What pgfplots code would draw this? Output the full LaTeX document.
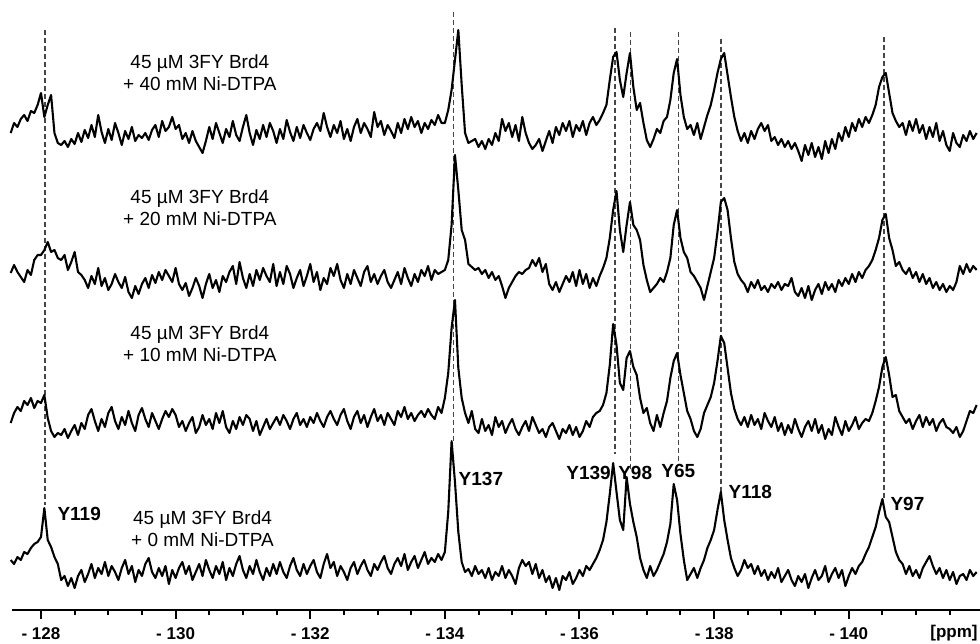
\documentclass[border=0pt]{standalone}
\usepackage{fontspec}
\setmainfont{Liberation Sans}
\usepackage{pgfplots}
\pgfplotsset{compat=1.18}
\usepackage{pgfplotstable}

% 19F NMR, 3FY Brd4 titrated with Ni-DTPA; intensities relative to each baseline
\pgfplotstableread{
d s1 s2 s3 s4
127.55 2 7 0 12
127.60 12 15 10 8
127.65 8 8 16 15
127.70 16 3 12 12
127.75 20 -2 22 20
127.80 14 10 18 18
127.85 24 5 25 24
127.90 22 20 15 28
127.95 30 25 22 30
128.00 42 25 20 35
128.05 18 30 28 64
128.10 30 38 5 32
128.15 40 28 -8 25
128.20 2 30 -14 15
128.25 -8 22 -10 8
128.30 -10 20 -12 -8
128.35 -6 25 -6 -4
128.40 -12 10 -15 -14
128.45 -4 18 -8 -6
128.50 -9 28 -2 -16
128.55 2 8 -12 -4
128.60 -7 5 0 2
128.65 5 0 -6 -10
128.70 -3 -8 8 -2
128.75 10 4 14 8
128.80 -2 -4 2 -6
128.85 20 12 -8 4
128.90 3 -6 4 -2
128.95 -8 2 -4 10
129.00 6 -10 10 -4
129.05 -5 -4 16 6
129.10 12 6 2 0
129.15 2 -2 -6 -8
129.20 -10 -8 6 4
129.25 4 3 -2 12
129.30 -4 -12 12 -2
129.35 8 -18 0 6
129.40 -6 -6 -8 -10
129.45 0 -14 8 2
129.50 -3 -4 15 -4
129.55 2 2 4 8
129.60 -5 -8 -4 14
129.65 5 5 10 0
129.70 10 -3 2 -6
129.75 -2 8 -6 4
129.80 14 0 4 -4
129.85 4 10 12 6
129.90 8 4 6 -12
129.95 18 -2 14 2
130.00 6 12 8 -6
130.05 10 -4 -4 4
130.10 -4 -10 2 10
130.15 2 -3 -8 -2
130.20 -8 -16 0 6
130.25 4 -8 6 -8
130.30 -6 2 -10 0
130.35 -12 -6 -4 8
130.40 -18 -18 8 -4
130.45 -6 -4 -2 12
130.50 8 6 4 2
130.55 -4 -8 -6 -6
130.60 12 0 10 6
130.65 2 -12 0 -2
130.70 -8 4 12 10
130.75 6 -2 -4 -8
130.80 -2 8 -10 4
130.85 14 14 2 -4
130.90 0 -4 -6 8
130.95 -6 18 6 16
131.00 8 2 -2 2
131.05 20 -8 8 -6
131.10 2 6 4 6
131.15 -10 -6 -8 -2
131.20 5 10 2 12
131.25 -4 0 -12 0
131.30 10 12 -4 -8
131.35 -2 4 4 4
131.40 12 -2 -6 -4
131.45 4 16 0 8
131.50 -8 -6 6 -2
131.55 6 8 -2 10
131.60 -4 -4 8 0
131.65 15 14 2 -6
131.70 3 6 -6 6
131.75 -6 -8 4 14
131.80 8 2 10 2
131.85 -3 10 -2 -4
131.90 10 -6 4 8
131.95 2 4 -4 -2
132.00 -5 16 6 6
132.05 6 -2 0 12
132.10 12 8 10 0
132.15 4 -10 2 -6
132.20 22 2 -4 8
132.25 8 -4 6 18
132.30 -2 12 12 4
132.35 10 4 4 10
132.40 2 16 -2 -4
132.45 14 0 8 6
132.50 -4 -8 14 0
132.55 6 6 2 -8
132.60 -6 -4 -6 4
132.65 8 10 6 10
132.70 16 2 12 -2
132.75 2 -6 0 6
132.80 12 8 8 12
132.85 6 14 -4 2
132.90 -2 -2 6 -4
132.95 23 6 14 8
133.00 8 -4 2 2
133.05 14 4 8 10
133.10 0 10 -2 16
133.15 10 -2 10 4
133.20 4 -8 4 -2
133.25 -3 0 -2 8
133.30 12 8 12 14
133.35 2 -4 6 6
133.40 16 12 16 18
133.45 6 2 4 2
133.50 18 -6 10 10
133.55 8 6 2 16
133.60 14 -2 8 4
133.65 2 10 12 12
133.70 12 4 6 20
133.75 6 14 14 8
133.80 15 0 8 14
133.85 10 10 4 10
133.90 20 6 16 18
133.95 12 8 10 12
134.00 12 10 25 20
134.05 25 20 50 60
134.10 45 55 95 131
134.15 75 125 123 90
134.20 105 90 55 40
134.25 50 50 25 10
134.30 2 40 10 0
134.35 -8 16 0 3
134.40 -6 13 12 -4
134.45 -4 10 -6 6
134.50 -12 12 -10 -2
134.55 -6 6 4 2
134.60 -14 10 -8 -6
134.65 -4 2 -2 4
134.70 -10 8 -12 -8
134.75 2 0 6 0
134.80 -6 4 -4 -4
134.85 16 -6 2 6
134.90 4 -18 -10 -6
134.95 12 -8 -2 2
135.00 -2 -2 4 -4
135.05 10 4 -6 -12
135.10 -6 8 -12 4
135.15 18 6 -4 12
135.20 2 10 2 6
135.25 -8 12 -8 10
135.30 -14 20 6 -2
135.35 -10 14 -2 8
135.40 -4 22 -10 -6
135.45 -16 8 -6 2
135.50 -6 16 -14 -10
135.55 4 -4 -4 -4
135.60 -8 -10 0 -16
135.65 8 -2 -8 -6
135.70 0 -12 -16 -18
135.75 12 -4 -6 -4
135.80 4 4 -10 -8
135.85 14 -2 -2 0
135.90 -2 8 -12 -12
135.95 10 -6 -4 -6
136.00 4 10 -14 2
136.05 14 -4 -8 -4
136.10 0 6 2 6
136.15 12 -8 -4 2
136.20 18 2 6 8
136.25 10 -6 10 14
136.30 15 4 12 22
136.35 22 12 18 32
136.40 30 22 30 50
136.45 55 42 58 78
136.50 78 70 99 109
136.55 83 89 78 80
136.60 55 50 40 52
136.65 38 28 33 42
136.70 62 55 65 95
136.75 82 78 72 68
136.80 48 55 56 50
136.85 25 50 48 35
136.90 32 40 25 14
136.95 12 15 10 2
137.00 -5 0 15 -6
137.05 -12 -12 0 6
137.10 -4 -8 -8 -4
137.15 6 -4 8 2
137.20 2 2 -4 10
137.25 14 -2 10 18
137.30 18 8 22 30
137.35 35 22 45 48
137.40 62 55 62 88
137.45 76 70 70 72
137.50 40 42 48 38
137.55 18 28 30 12
137.60 6 22 12 -8
137.65 10 8 4 -2
137.70 0 4 -8 4
137.75 12 -2 -14 -6
137.80 -4 -8 -6 4
137.85 8 -20 10 12
137.90 20 -6 18 24
137.95 30 8 26 32
138.00 45 22 40 42
138.05 62 48 62 62
138.10 76 78 87 80
138.15 82 82 80 52
138.20 60 70 55 32
138.25 38 42 30 14
138.30 18 18 14 4
138.35 4 6 4 -4
138.40 -6 0 -2 2
138.45 2 -4 6 12
138.50 -8 -12 -4 4
138.55 4 -2 8 8
138.60 -4 -8 -2 -2
138.65 6 0 4 6
138.70 12 -10 -6 -4
138.75 4 -6 10 2
138.80 10 -12 2 -8
138.85 -6 -4 -4 0
138.90 -2 -8 6 -6
138.95 -10 -2 -8 4
139.00 -4 -10 0 -10
139.05 -12 -4 -12 -4
139.10 -6 -6 -2 2
139.15 -14 2 -10 -8
139.20 -8 -12 4 -14
139.25 -16 -16 -6 -4
139.30 -26 -8 -14 -10
139.35 -10 -18 -4 -2
139.40 -20 -6 2 -16
139.45 -8 -20 -8 -6
139.50 -22 -10 4 2
139.55 -12 -4 -10 -8
139.60 -24 -14 -2 -4
139.65 -6 -2 -16 6
139.70 -18 -10 -6 -10
139.75 -4 -4 -12 -2
139.80 -14 -12 6 4
139.85 2 0 -4 -6
139.90 -6 -6 -12 2
139.95 8 2 2 -14
140.00 -2 -4 -8 -4
140.05 12 6 -2 4
140.10 4 -2 6 -2
140.15 16 8 -6 6
140.20 8 2 0 10
140.25 18 10 4 18
140.30 12 14 2 25
140.35 20 20 10 35
140.40 30 30 22 45
140.45 48 42 36 60
140.50 58 60 56 73
140.55 62 66 66 55
140.60 42 42 48 50
140.65 22 30 26 35
140.70 14 14 28 20
140.75 8 18 12 12
140.80 12 10 6 8
140.85 0 6 0 -2
140.90 14 12 4 6
140.95 4 2 -6 -4
141.00 16 8 2 2
141.05 2 -2 8 -6
141.10 10 6 -4 4
141.15 -4 -4 6 10
141.20 8 2 -2 16
141.25 -2 -8 4 6
141.30 12 -2 -8 -2
141.35 -6 -10 0 4
141.40 4 -4 4 -6
141.45 -10 -12 -4 2
141.50 -16 -6 -6 -8
141.55 2 -10 -10 0
141.60 -8 -2 -4 -12
141.65 -12 14 -14 -4
141.70 0 6 -8 -2
141.75 -6 16 2 -8
141.80 4 8 12 2
141.85 -4 14 10 -4
141.90 2 10 18 0
}\spec

\begin{document}
\begin{tikzpicture}
\begin{axis}[
    name=ax,
    width=490pt, height=321.5pt, scale only axis,
    xmin=127.391, xmax=141.95,
    ymin=-33, ymax=610,
    axis x line*=middle, axis y line=none,
    x axis line style={draw=none},
    xtick={128,130,...,140},
    xticklabels={- 128,- 130,- 132,- 134,- 136,- 138,- 140},
    minor xtick={128.5,129,...,141.5},
    tick align=outside,
    major tick length=4.5pt, minor tick length=2.5pt,
    tick style={black, line width=1pt},
    xticklabel style={font=\bfseries\fontsize{8.5}{10}\selectfont, yshift=-1pt},
    clip=false,
]
% peak guides
\tikzset{guide/.style={gray!55!black, line width=0.75pt, dash pattern=on 2.5pt off 1.5pt}}
\draw[guide] (128.06,580) -- (128.06,105);
\draw[guide] (134.13,598) -- (134.13,169);
\draw[guide] (136.53,582) -- (136.53,156);
\draw[guide] (136.76,578) -- (136.76,140);
\draw[guide] (137.47,578) -- (137.47,148);
\draw[guide] (138.10,571) -- (138.10,118);
\draw[guide] (140.52,573) -- (140.52,111);

\addplot[black, line width=1.05pt, line join=round] table[x=d, y expr=\thisrow{s1}+475] {\spec};
\addplot[black, line width=1.05pt, line join=round] table[x=d, y expr=\thisrow{s2}+330] {\spec};
\addplot[black, line width=1.05pt, line join=round] table[x=d, y expr=\thisrow{s3}+187] {\spec};
\addplot[black, line width=1.05pt, line join=round] table[x=d, y expr=\thisrow{s4}+38] {\spec};

\draw[black, line width=1pt] (127.57,0) -- (141.95,0);

\tikzset{smp/.style={align=center, font=\fontsize{9.5}{11}\selectfont, inner sep=0pt},
         pk/.style={anchor=west, font=\bfseries\fontsize{9.5}{11}\selectfont, inner sep=0pt}}
\node[smp] at (130.36,537.5) {45 µM 3FY Brd4\\+ 40 mM Ni-DTPA};
\node[smp] at (130.36,402) {45 µM 3FY Brd4\\+ 20 mM Ni-DTPA};
\node[smp] at (130.36,266.5) {45 µM 3FY Brd4\\+ 10 mM Ni-DTPA};
\node[smp] at (130.40,81.5) {45 µM 3FY Brd4\\+ 0 mM Ni-DTPA};

\node[pk] at (128.24,96) {Y119};
\node[pk] at (134.20,131) {Y137};
\node[pk] at (135.80,137) {Y139};
\node[pk] at (136.57,137) {Y98};
\node[pk] at (137.21,139) {Y65};
\node[pk] at (138.21,118) {Y118};
\node[pk] at (140.615,106) {Y97};

\node[anchor=east, inner sep=0pt, font=\bfseries\fontsize{8.5}{10}\selectfont] at (141.92,-23.5) {[ppm]};
\end{axis}
\pgfresetboundingbox
\path (ax.south west) rectangle (ax.north east);
\end{tikzpicture}
\end{document}
